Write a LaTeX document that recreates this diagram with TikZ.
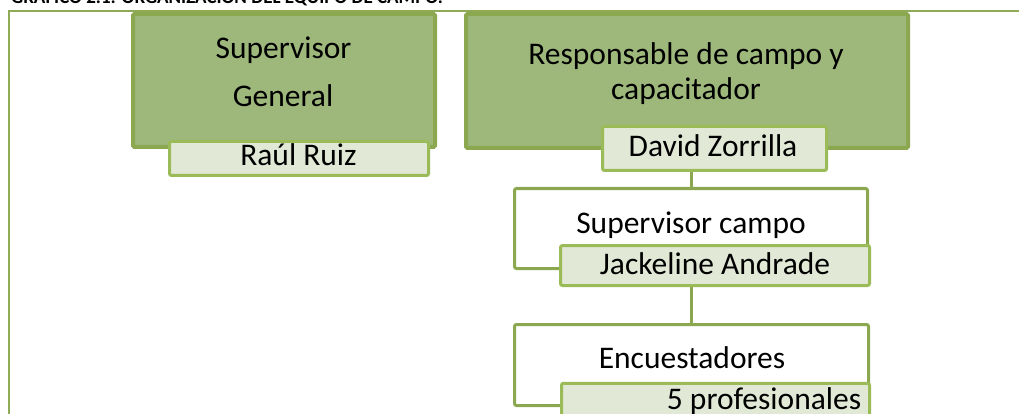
\documentclass[tikz,border=0pt]{standalone}
\usepackage{fontspec}
\setmainfont{Carlito}
\definecolor{darkfill}{RGB}{158,184,124}
\definecolor{darkline}{RGB}{139,167,80}
\definecolor{lightfill}{RGB}{225,233,214}
\definecolor{lightline}{RGB}{155,187,89}
\definecolor{frameline}{RGB}{143,171,88}
\tikzset{
  bigbox/.style={draw=darkline, fill=darkfill, line width=4pt, inner sep=0pt, rectangle, rounded corners=1.5pt},
  namebox/.style={draw=lightline, fill=lightfill, line width=3pt, inner sep=0pt, rectangle, rounded corners=2pt},
  whitebox/.style={draw=darkline, fill=white, line width=3pt, inner sep=0pt, rectangle, rounded corners=2pt},
  conn/.style={draw=darkline, line width=3pt},
  lbl/.style={anchor=base, inner sep=0pt, font=\fontsize{31.5}{36}\selectfont, text=black},
}
\begin{document}
\begin{tikzpicture}[x=1pt, y=-1pt]
\useasboundingbox (0,0) rectangle (1019,414);
\clip (0,0) rectangle (1019,414);
% title (cut off at the top)
\node[anchor=base west, inner sep=0pt, font=\fontsize{19}{21}\selectfont\bfseries] (title) at (11,3.5) {GRÁFICO 2.1: ORGANIZACIÓN DEL EQUIPO DE CAMPO.};
% frame
\coordinate (fbl) at (9,430);
\coordinate (ftl) at (9,11);
\coordinate (ftr) at (1030,11);
\draw[frameline, line width=2pt] (fbl) -- (ftl) -- (ftr);
% top boxes
\node[bigbox, minimum width=302pt, minimum height=133pt] (sg) at (284,80.5) {};
\node[bigbox, minimum width=442pt, minimum height=134pt] (rc) at (687,81) {};
\node[lbl] (sgt1) at (283.5,59) {Supervisor};
\node[lbl] (sgt2) at (283,107) {General};
\node[lbl] (rct1) at (686,65) {Responsable de campo y};
\node[lbl] (rct2) at (686,100) {capacitador};
\node[namebox, minimum width=259pt, minimum height=34pt] (rr) at (299,158.5) {};
\node[lbl] (rrt) at (298.5,166) {Raúl Ruiz};
% lower boxes
\node[whitebox, minimum width=353pt, minimum height=80pt] (sc) at (691,228.5) {};
\node[whitebox, minimum width=354pt, minimum height=81pt] (en) at (691.5,365) {};
\node[namebox, minimum width=224pt, minimum height=44pt] (dz) at (714.5,148.5) {};
\draw[conn] (sc.north |- dz.south) -- (sc.north);
\node[lbl] (dzt) at (713,157) {David Zorrilla};
\node[lbl] (sct) at (691,233) {Supervisor campo};
\node[namebox, minimum width=309pt, minimum height=40pt] (ja) at (715,265.5) {};
\draw[conn] (en.north |- ja.south) -- (en.north);
\node[lbl] (jat) at (715,274) {Jackeline Andrade};
\node[lbl] (ent) at (692,368) {Encuestadores};
\node[namebox, minimum width=308pt, minimum height=41.5pt] (pf) at (715.5,404) {};
\node[lbl] (pft) at (764,409) {5 profesionales};
\end{tikzpicture}
\end{document}
